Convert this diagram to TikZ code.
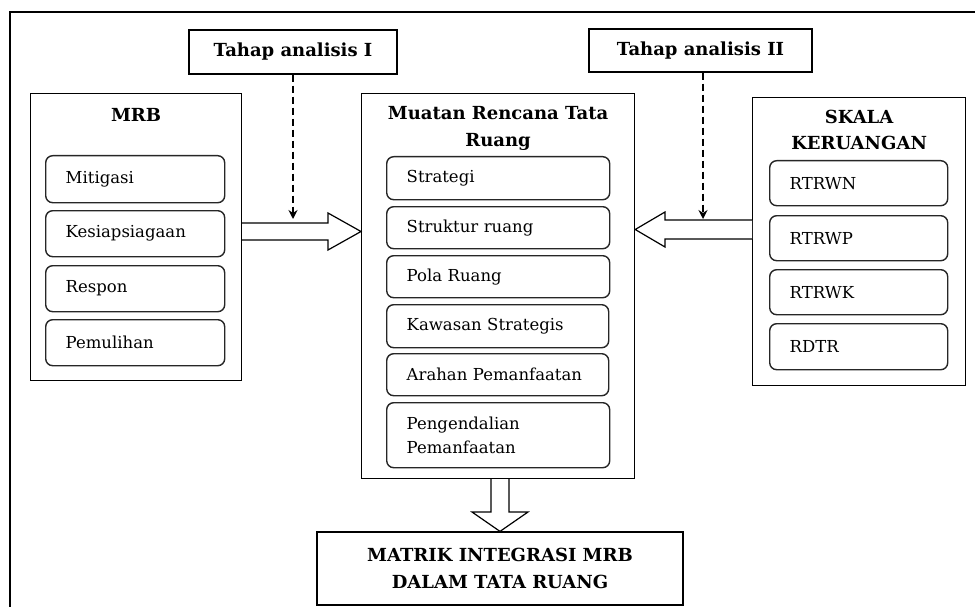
\documentclass[tikz,border=0pt]{standalone}
\usepackage{fontspec}
\setmainfont{DejaVu Serif}
\usetikzlibrary{arrows.meta, positioning, calc}

\begin{document}
\begin{tikzpicture}[x=1pt, y=-1pt,
		frame/.style={draw, line width=1.2pt, rectangle, inner sep=0pt},
		item/.style={draw=black!85, line width=1.4pt, rounded corners=7pt, anchor=north west, align=left, inner xsep=20pt, text width=#1, font=\fontsize{16.5}{24}\selectfont},
		title/.style={font=\fontsize{18}{26.5}\selectfont\bfseries, align=center},
		blockarrow/.style={draw, line width=1.2pt, fill=white},
		dasharrow/.style={line width=1.6pt, dash pattern=on 7pt off 4pt, -{Stealth[length=9pt, width=9pt]}}]
	\useasboundingbox (0,0) rectangle (975,607);
	
	% Outer frame
	\draw[line width=1.4pt] (975,12) -- (10,12) -- (10,607);
	
	% Analysis steps
	\node[frame, title, minimum width=208pt, minimum height=44pt] (tahap1) at (293,52) {Tahap analisis I};
	\node[frame, title, minimum width=223pt, minimum height=43pt] (tahap2) at (700.5,50.5) {Tahap analisis II};
	
	% MRB
	\node[frame, anchor=north west, minimum width=211pt, minimum height=287pt] (mrb) at (30,93) {};
	\node[title] (mrbtitle) at ($(mrb.north)+(0,22)$) {MRB};
	\node[item=139pt, minimum height=47pt] (mitigasi) at (45,155) {Mitigasi};
	\node[item=139pt, minimum height=46pt] (siaga) at (45,210) {Kesiapsiagaan};
	\node[item=139pt, minimum height=46pt] (respon) at (45,265) {Respon};
	\node[item=139pt, minimum height=46pt] (pulih) at (45,319) {Pemulihan};
	
	% Muatan rencana tata ruang
	\node[frame, anchor=north west, minimum width=273pt, minimum height=385pt] (muatan) at (361,93) {};
	\node[title] (muatantitle) at ($(muatan.north)+(0,35.5)$) {Muatan Rencana Tata\\Ruang};
	\node[item=183pt, minimum height=43pt] (strategi) at (386,156) {Strategi};
	\node[item=183pt, minimum height=42pt] (struktur) at (386,206) {Struktur ruang};
	\node[item=183pt, minimum height=42pt] (pola) at (386,255) {Pola Ruang};
	\node[item=182pt, minimum height=43pt] (kawasan) at (386,304) {Kawasan Strategis};
	\node[item=182pt, minimum height=42pt] (arahan) at (386,353) {Arahan Pemanfaatan};
	\node[item=183pt, minimum height=65pt] (kendali) at (386,402) {Pengendalian\\Pemanfaatan};
	
	% Skala keruangan
	\node[frame, anchor=north west, minimum width=213pt, minimum height=288pt] (skala) at (752,97) {};
	\node[title] (skalatitle) at ($(skala.north)+(0,33)$) {SKALA\\KERUANGAN};
	\node[item=138pt, minimum height=45pt] (rtrwn) at (769,160) {RTRWN};
	\node[item=138pt, minimum height=45pt] (rtrwp) at (769,215) {RTRWP};
	\node[item=138pt, minimum height=45pt] (rtrwk) at (769,269) {RTRWK};
	\node[item=138pt, minimum height=46pt] (rdtr) at (769,323) {RDTR};
	
	% Result
	\node[frame, title, minimum width=366pt, minimum height=73pt] (matrik) at (500,568.5) {MATRIK INTEGRASI MRB\\DALAM TATA RUANG};
	
	% Block arrows
	\draw[blockarrow] (mrb.east |- 0,223) -- (328,223) -- (328,213) -- (muatan.west |- 0,231.5)
		-- (328,250) -- (328,240) -- (mrb.east |- 0,240);
	\draw[blockarrow] (skala.west |- 0,220) -- (665,220) -- (665,212) -- (muatan.east |- 0,229.5)
		-- (665,247) -- (665,239) -- (skala.west |- 0,239);
	\draw[blockarrow] (muatan.south -| 491,0) -- (491,512) -- (472,512) -- (matrik.north)
		-- (528,512) -- (509,512) -- (muatan.south -| 509,0);
	
	% Dashed arrows
	\draw[dasharrow] (tahap1.south) -- (tahap1.south |- 0,219);
	\draw[dasharrow] (tahap2.south -| 703,0) -- (703,219);
\end{tikzpicture}
\end{document}
